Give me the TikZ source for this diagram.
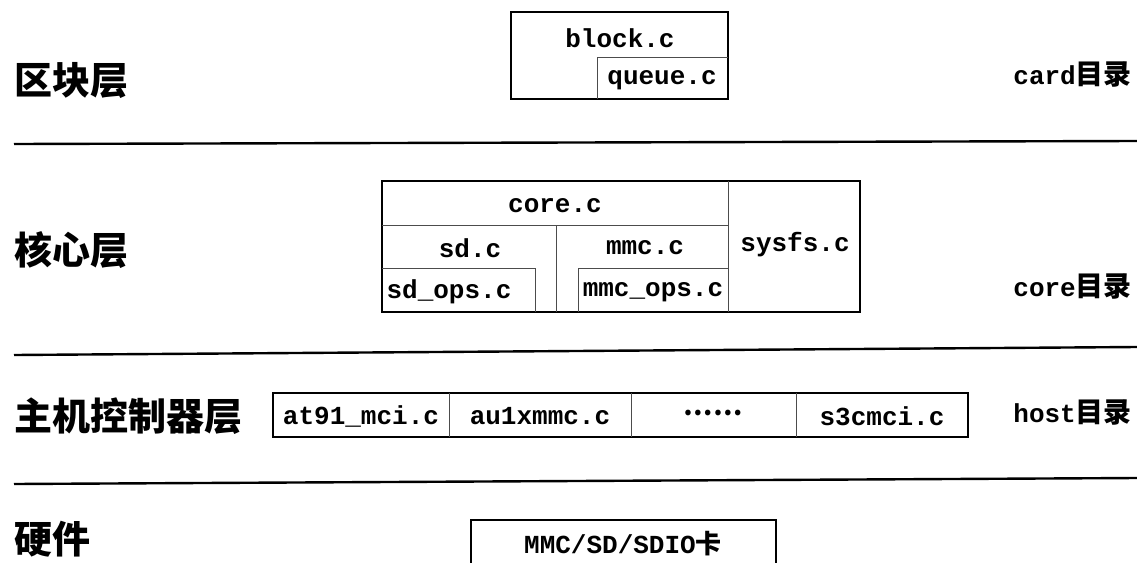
\documentclass[tikz,border=0pt]{standalone}
\usepackage{fontspec}
\setmonofont{Liberation Mono}
\newfontfamily\cjk{Noto Sans CJK SC}
\tikzset{
  outer/.style={draw, line width=2.4pt, inner sep=0pt},
  inner/.style={draw=black!70, line width=0.7pt},
  sep/.style={draw, line width=2.4pt},
  file/.style={inner sep=0pt, font=\fontsize{26}{28}\selectfont\ttfamily\bfseries},
  layer/.style={anchor=west, inner sep=0pt, font=\fontsize{38}{40}\selectfont\cjk\bfseries},
  dir/.style={anchor=east, inner sep=0pt, font=\fontsize{26}{28}\selectfont\ttfamily\bfseries},
}
\begin{document}
\begin{tikzpicture}[x=1pt,y=-1pt]
\useasboundingbox (0,0) rectangle (1137,562);
% separators
\draw[sep] (14,144) -- (1137,141);
\draw[sep] (14,355) -- (1137,347);
\draw[sep] (14,484) -- (1137,478);
% left layer labels
\node[layer] (l1) at (14,80) {区块层};
\node[layer] (l2) at (14,250) {核心层};
\node[layer] (l3) at (14,416) {主机控制器层};
\node[layer] (l4) at (14,539) {硬件};
% right directory labels
\node[dir] (d1) at (1132,74) {card{\cjk\fontsize{28}{30}\selectfont 目录}};
\node[dir] (d2) at (1132,286) {core{\cjk\fontsize{28}{30}\selectfont 目录}};
\node[dir] (d3) at (1132,412) {host{\cjk\fontsize{28}{30}\selectfont 目录}};
% block layer
\node[outer, minimum width=217pt, minimum height=87pt] (blk) at (619.5,55.5) {};
\draw[inner] (597,99) -- (597,57) -- (728,57);
\node[file] (blockc) at (620,38) {block.c};
\node[file] (queuec) at (662,80) {queue.c};
% core layer
\node[outer, minimum width=478pt, minimum height=131pt] (cor) at (621,246.5) {};
\draw[inner] (728,181) -- (728,312);
\draw[inner] (382,225) -- (728,225);
\draw[inner] (556,225) -- (556,312);
\draw[inner] (382,268) -- (535,268) -- (535,312);
\draw[inner] (578,312) -- (578,268) -- (728,268);
\node[file] (corec) at (555,206) {core.c};
\node[file] (sysfsc) at (795,245) {sysfs.c};
\node[file] (sdc) at (470,248) {sd.c};
\node[file] (mmcc) at (645,248) {mmc.c};
\node[file] (sdops) at (449,292) {sd\_ops.c};
\node[file] (mmcops) at (653,292) {mmc\_ops.c};
% host layer
\node[outer, minimum width=695pt, minimum height=44pt] (hst) at (620.5,415) {};
\draw[inner] (449,393) -- (449,437);
\draw[inner] (631,393) -- (631,437);
\draw[inner] (796,393) -- (796,437);
\node[file] (at91) at (361,416) {at91\_mci.c};
\node[file] (au1x) at (540,416) {au1xmmc.c};
\node[file] (dots) at (713,413) {\cjk ……};
\node[file] (s3c) at (882,416) {s3cmci.c};
% hardware
\draw[line width=2.4pt] (471,566) -- (471,520) -- (776,520) -- (776,566);
\node[file] (mmcsd) at (623,544) {MMC/SD/SDIO{\cjk 卡}};
\end{tikzpicture}
\end{document}
